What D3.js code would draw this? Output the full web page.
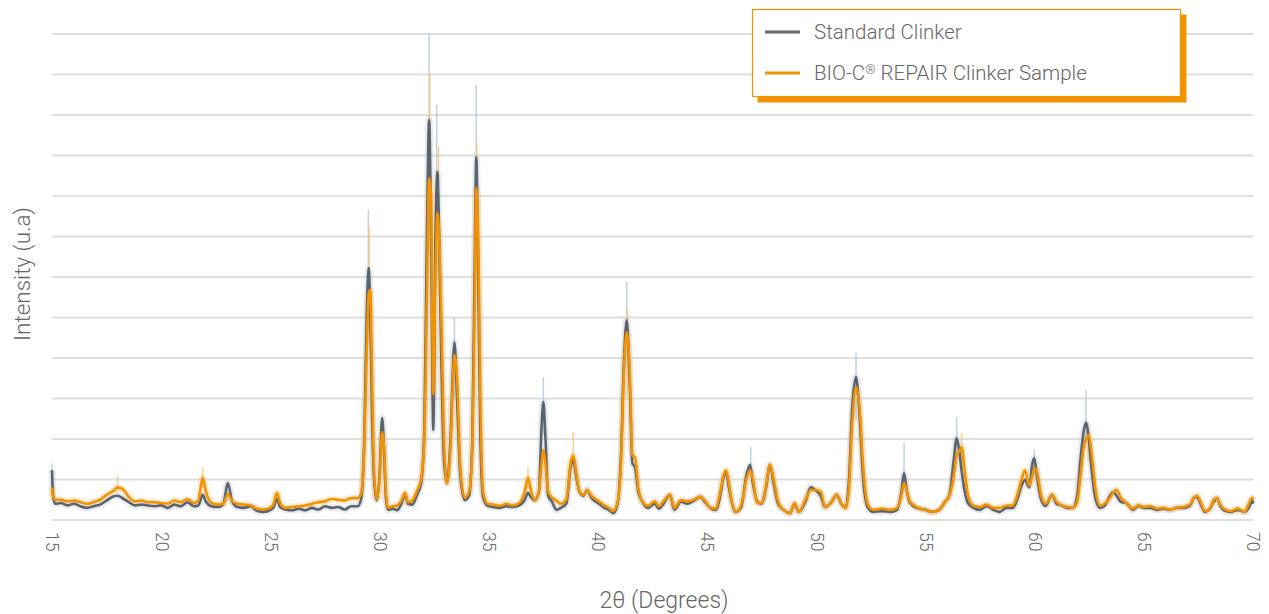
<!DOCTYPE html>
<html>
<head>
<meta charset="utf-8">
<script src="https://cdn.jsdelivr.net/npm/d3@7"></script>
<style>
  body { margin: 0; background: #fff; }
  text { font-family: Roboto, "Noto Sans", sans-serif; font-weight: 300; fill: #666; }
</style>
</head>
<body>
<svg id="chart" width="1269" height="614"></svg>
<script>
// 2-theta positions (degrees) shared by both patterns
var theta = [
  15.00, 15.05, 15.15, 15.4, 15.7, 16.0, 16.3, 16.6, 16.9, 17.2, 17.5, 17.8, 18.0, 18.2, 18.5, 18.8,
  19.1, 19.4, 19.7, 20.0, 20.3, 20.6, 20.9, 21.2, 21.5, 21.7, 21.9, 22.05, 22.3, 22.6, 22.85, 23.05,
  23.25, 23.5, 23.8, 24.1, 24.4, 24.7, 25.0, 25.15, 25.3, 25.45, 25.7, 26.0, 26.3, 26.6, 26.9, 27.2,
  27.5, 27.8, 28.1, 28.4, 28.7, 29.0, 29.15, 29.3, 29.42, 29.5, 29.58, 29.65, 29.75, 29.87, 30.0,
  30.12, 30.22, 30.3, 30.4, 30.6, 30.8, 31.0, 31.17, 31.3, 31.5, 31.7, 31.9, 32.05, 32.17, 32.27,
  32.36, 32.46, 32.56, 32.65, 32.73, 32.83, 32.95, 33.09, 33.25, 33.43, 33.55, 33.7, 33.9, 34.1,
  34.25, 34.35, 34.43, 34.52, 34.62, 34.74, 34.95, 35.2, 35.5, 35.8, 36.1, 36.4, 36.65, 36.8, 36.95,
  37.1, 37.3, 37.42, 37.5, 37.6, 37.72, 37.9, 38.1, 38.3, 38.55, 38.75, 38.87, 39.0, 39.15, 39.35,
  39.5, 39.7, 40.0, 40.3, 40.5, 40.7, 40.9, 41.05, 41.2, 41.32, 41.45, 41.58, 41.7, 41.85, 42.0,
  42.3, 42.6, 42.8, 43.0, 43.3, 43.5, 43.8, 44.1, 44.4, 44.68, 44.9, 45.15, 45.4, 45.6, 45.75, 45.87,
  46.0, 46.15, 46.3, 46.55, 46.8, 46.97, 47.1, 47.3, 47.5, 47.7, 47.88, 48.05, 48.25, 48.5, 48.8,
  49.0, 49.2, 49.5, 49.75, 49.95, 50.2, 50.4, 50.7, 50.94, 51.15, 51.35, 51.5, 51.65, 51.82, 51.98,
  52.15, 52.35, 52.6, 53.0, 53.4, 53.7, 53.9, 54.02, 54.15, 54.3, 54.6, 55.0, 55.3, 55.6, 55.9,
  56.1, 56.3, 56.43, 56.55, 56.66, 56.8, 56.95, 57.2, 57.5, 57.8, 58.1, 58.4, 58.7, 59.0, 59.2,
  59.4, 59.56, 59.75, 59.9, 59.98, 60.1, 60.3, 60.5, 60.8, 61.0, 61.2, 61.5, 61.75, 61.95, 62.1,
  62.25, 62.35, 62.48, 62.6, 62.8, 63.0, 63.2, 63.45, 63.6, 63.75, 63.95, 64.2, 64.5, 64.75, 65.0,
  65.3, 65.6, 65.9, 66.2, 66.5, 66.8, 67.1, 67.3, 67.43, 67.6, 67.8, 68.05, 68.2, 68.35, 68.5,
  68.75, 69.0, 69.3, 69.6, 69.85, 69.96, 70.0
];

// Standard Clinker intensity (u.a)
var standard = [
  123, 60, 40, 42, 36, 40, 34, 30, 34, 38, 48, 58, 60, 55, 45, 36,
  38, 36, 34, 36, 30, 38, 34, 44, 34, 36, 62, 45, 34, 32, 40, 91,
  46, 32, 30, 34, 22, 20, 25, 32, 52, 32, 26, 24, 28, 24, 30, 26,
  34, 30, 32, 26, 34, 34, 50, 200, 520, 622, 500, 280, 100, 49, 110,
  252, 150, 50, 25, 28, 24, 40, 62, 40, 38, 60, 90, 220, 700, 988,
  700, 222, 700, 859, 700, 400, 150, 91, 200, 439, 300, 110, 49, 60,
  200, 600, 896, 600, 200, 57, 35, 32, 30, 34, 32, 36, 50, 67, 55,
  49, 70, 230, 291, 200, 60, 45, 25, 30, 40, 130, 148, 110, 70, 60,
  74, 55, 42, 30, 25, 17, 40, 150, 400, 494, 350, 140, 130, 70, 49,
  30, 40, 28, 40, 62, 25, 45, 40, 48, 57, 45, 30, 25, 60, 105, 116,
  80, 40, 20, 30, 110, 136, 90, 45, 40, 80, 136, 90, 40, 25, 17,
  40, 20, 45, 81, 74, 60, 32, 45, 62, 40, 30, 100, 280, 353, 260,
  100, 32, 20, 22, 20, 25, 70, 116, 70, 42, 30, 25, 20, 24, 45,
  62, 150, 202, 170, 120, 70, 42, 30, 25, 35, 25, 20, 30, 30, 50,
  85, 99, 81, 140, 153, 110, 50, 35, 62, 40, 37, 30, 30, 60, 150,
  220, 240, 200, 130, 50, 30, 35, 60, 69, 60, 45, 42, 25, 35, 30,
  30, 25, 28, 25, 30, 30, 35, 55, 57, 40, 20, 30, 45, 54, 35,
  22, 20, 25, 20, 35, 49, 40
];

// BIO-C REPAIR Clinker Sample intensity (u.a)
var bioc = [
  80, 60, 50, 50, 46, 48, 44, 40, 44, 50, 62, 72, 80, 78, 58, 46,
  48, 44, 44, 42, 40, 48, 44, 52, 42, 48, 104, 70, 42, 38, 40, 64,
  46, 40, 38, 36, 28, 26, 30, 40, 67, 42, 30, 32, 34, 36, 40, 44,
  46, 52, 50, 48, 54, 54, 64, 180, 430, 560, 568, 380, 120, 52, 100,
  217, 170, 60, 30, 34, 36, 48, 67, 44, 48, 70, 100, 200, 550, 844,
  800, 310, 600, 758, 700, 500, 200, 91, 180, 407, 350, 130, 55, 70,
  180, 500, 820, 700, 300, 70, 40, 38, 35, 40, 36, 42, 70, 104, 70,
  49, 70, 140, 173, 140, 70, 55, 48, 40, 50, 140, 160, 120, 72, 62,
  74, 60, 48, 36, 30, 22, 45, 130, 380, 464, 380, 160, 155, 80, 49,
  35, 46, 34, 46, 62, 30, 49, 46, 50, 57, 48, 30, 28, 70, 110, 123,
  90, 40, 20, 35, 100, 123, 100, 42, 42, 85, 136, 100, 45, 25, 17,
  42, 20, 50, 74, 74, 70, 32, 45, 62, 40, 30, 80, 240, 328, 280,
  130, 40, 25, 28, 25, 30, 60, 91, 70, 45, 32, 25, 20, 24, 45,
  60, 110, 160, 170, 180, 120, 60, 35, 32, 38, 30, 30, 35, 36, 60,
  100, 123, 85, 110, 128, 120, 60, 40, 62, 45, 37, 32, 30, 45, 110,
  180, 200, 210, 170, 70, 35, 40, 55, 68, 74, 55, 42, 28, 36, 32,
  34, 28, 30, 25, 30, 32, 38, 55, 60, 45, 22, 30, 50, 54, 38,
  25, 22, 28, 20, 45, 55, 50
];

// raw-count maxima that poke out above the smoothed traces: [theta, top]
var standardSpikes = [[15.0, 140], [29.49, 765], [32.27, 1202], [32.62, 1025], [33.43, 501], [34.43, 1074],
  [37.5, 353], [41.32, 588], [51.82, 412], [54.02, 190], [56.43, 254], [62.35, 321], [47.0, 180], [59.98, 175]];
var biocSpikes = [[21.9, 131], [29.52, 723], [32.3, 1104], [32.7, 921], [34.45, 931], [38.87, 217],
  [41.35, 518], [18.0, 110], [36.8, 130], [56.66, 215], [62.45, 240]];

var xTicks = [15, 20, 25, 30, 35, 40, 45, 50, 55, 60, 65, 70];
var yGrid = [0, 100, 200, 300, 400, 500, 600, 700, 800, 900, 1000, 1100, 1200];

var seriesNames = [["Standard Clinker", ""], ["BIO-C", " REPAIR Clinker Sample"]];
var seriesColors = ["#5b636d", "#f39200"];
var haloColors = ["#b9c7d3", "#f9c57a"];

var WIDTH = 1269, HEIGHT = 614;
var MARGINS = { left: 52, right: 16, top: 34, bottom: 94 };

var svg = d3.select("#chart");

var xRange = d3.scaleLinear().domain([15, 70]).range([MARGINS.left, WIDTH - MARGINS.right]);
var yRange = d3.scaleLinear().domain([0, 1200]).range([HEIGHT - MARGINS.bottom, MARGINS.top]);

// horizontal grid
svg.append("g").attr("class", "grid")
  .selectAll("line").data(yGrid).enter().append("line")
  .attr("x1", MARGINS.left).attr("x2", WIDTH - MARGINS.right)
  .attr("y1", function (d) { return yRange(d); })
  .attr("y2", function (d) { return yRange(d); })
  .attr("stroke", "#dedede").attr("stroke-width", 2);

var lineFunc = function (values) {
  return d3.line()
    .x(function (d, i) { return xRange(theta[i]); })
    .y(function (d) { return yRange(d); })
    .curve(d3.curveMonotoneX)(values);
};

var allSeries = [standard, bioc];
var allSpikes = [standardSpikes, biocSpikes];

// faint noisy envelope + spikes
allSeries.forEach(function (values, k) {
  svg.append("path").attr("d", lineFunc(values))
    .attr("fill", "none").attr("stroke", haloColors[k])
    .attr("stroke-width", 7).attr("stroke-opacity", 0.35)
    .attr("stroke-linejoin", "round");
});
allSpikes.forEach(function (spikes, k) {
  svg.append("g").selectAll("line").data(spikes).enter().append("line")
    .attr("x1", function (d) { return xRange(d[0]); })
    .attr("x2", function (d) { return xRange(d[0]); })
    .attr("y1", function (d) { return yRange(d[1]); })
    .attr("y2", function (d) { return yRange(d[1] * 0.6); })
    .attr("stroke", haloColors[k]).attr("stroke-width", 1.6).attr("stroke-opacity", 0.8);
});

// main traces
allSeries.forEach(function (values, k) {
  svg.append("path").attr("d", lineFunc(values))
    .attr("fill", "none").attr("stroke", seriesColors[k])
    .attr("stroke-width", 2.6).attr("stroke-linejoin", "round");
});

// x tick labels, rotated
var xAxis = d3.axisBottom(xRange).tickValues(xTicks).tickSize(0).tickPadding(0);
var x2 = svg.append("g")
  .attr("transform", "translate(0," + (HEIGHT - MARGINS.bottom + 12) + ")")
  .call(xAxis);
x2.select(".domain").remove();
x2.selectAll("text")
  .attr("transform", "rotate(90)")
  .attr("x", 0).attr("y", 0).attr("dy", "0.35em")
  .attr("text-anchor", "start")
  .style("font-size", "17.5px").style("font-family", "Roboto, sans-serif")
  .style("font-weight", 300).style("fill", "#666");

svg.append("text")
  .attr("x", 664).attr("y", 608)
  .attr("text-anchor", "middle")
  .style("font-size", "23px")
  .text("2\u03B8 (Degrees)");

svg.append("text")
  .attr("transform", "translate(30,274) rotate(-90)")
  .attr("text-anchor", "middle")
  .style("font-size", "22.5px")
  .text("Intensity (u.a)");

// legend
var legend = svg.append("g").attr("transform", "translate(752,9)");
legend.append("rect").attr("x", 5.5).attr("y", 5.5).attr("width", 429).attr("height", 88)
  .attr("fill", "#f39200");
legend.append("rect").attr("x", 0.5).attr("y", 0.5).attr("width", 428).attr("height", 87)
  .attr("fill", "#fff").attr("stroke", "#f39200").attr("stroke-width", 1.2);
seriesNames.forEach(function (name, k) {
  var cy = 23 + k * 41;
  legend.append("line").attr("x1", 13).attr("x2", 48).attr("y1", cy).attr("y2", cy)
    .attr("stroke", k === 0 ? "#6b6b6b" : "#f39200").attr("stroke-width", 3);
  var t = legend.append("text").attr("x", 62).attr("y", cy + 7)
    .style("font-size", "20.5px");
  t.append("tspan").text(name[0]);
  if (name[1]) {
    t.append("tspan").attr("dy", -6).style("font-size", "13px").text("\u00AE");
    t.append("tspan").attr("dy", 6).text(name[1]);
  }
});
</script>
</body>
</html>
